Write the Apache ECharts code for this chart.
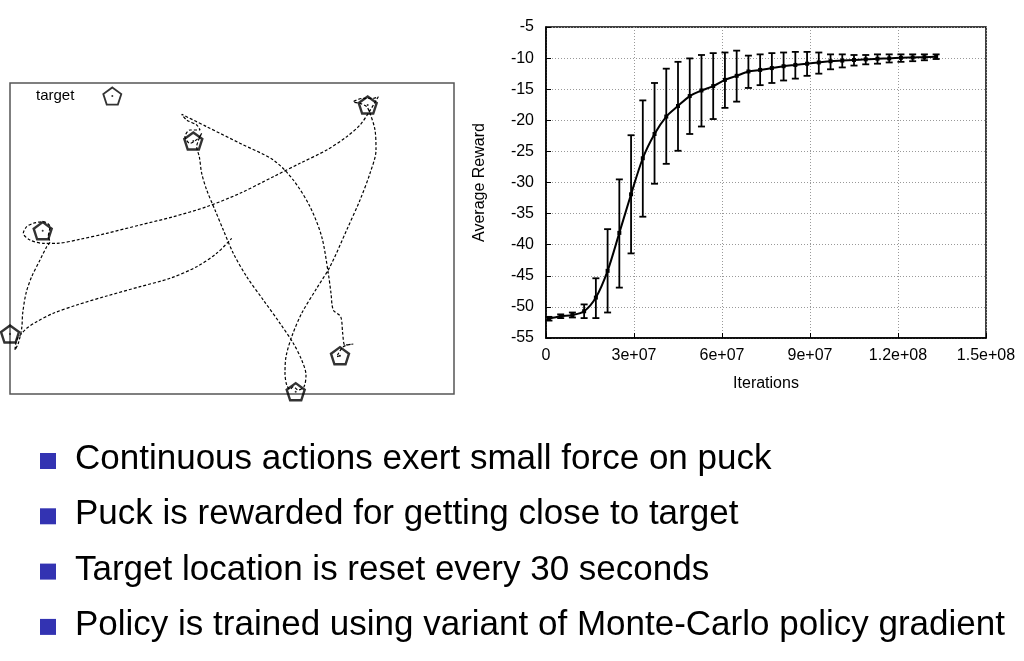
<!DOCTYPE html>
<html>
<head>
<meta charset="utf-8">
<script src="https://cdn.jsdelivr.net/npm/echarts/dist/echarts.min.js"></script>
<style>
  html, body { margin: 0; padding: 0; background: #fff; }
  #chart { width: 1024px; height: 661px; }
</style>
</head>
<body>
<div id="chart"></div>
<script>
// ---- reward curve (right panel) ----
var iterations = [];
for (var i = 0; i < 34; i++) iterations.push(1e6 + 4e6 * i);
var rewardMean = [-51.9, -51.5, -51.3, -50.7, -48.5, -44.2, -38.1, -31.9, -26.1, -22.2,
  -19.4, -17.7, -16.1, -15.2, -14.5, -13.5, -12.85, -12.15, -11.9, -11.6,
  -11.3, -11.1, -10.9, -10.7, -10.5, -10.4, -10.3, -10.2, -10.1, -10.05,
  -9.95, -9.9, -9.85, -9.8];
var rewardHigh = [-51.6, -51.2, -50.9, -49.6, -45.4, -37.5, -29.5, -22.4, -16.8, -14.0,
  -11.7, -10.6, -10.05, -9.5, -9.2, -9.1, -8.8, -9.6, -9.4, -9.2,
  -9.1, -9.0, -9.0, -9.1, -9.4, -9.4, -9.5, -9.5, -9.4, -9.4,
  -9.4, -9.4, -9.4, -9.4];
var rewardLow = [-52.2, -51.8, -51.7, -51.8, -51.8, -50.9, -46.9, -41.4, -35.5, -30.2,
  -27.0, -24.9, -22.2, -21.0, -19.8, -18.0, -17.0, -14.8, -14.35, -14.0,
  -13.6, -13.3, -12.85, -12.5, -11.8, -11.5, -11.2, -11.0, -10.9, -10.7,
  -10.6, -10.5, -10.35, -10.15];

// ---- puck trajectory (left panel), box units: x 0..444, y 0..311 from top ----
var puckPath = [
  [330, 272.7], [326.7, 273.7], [333.3, 263.7], [343.3, 261], [335, 262], [332.7, 250.3],
  [330.7, 233.7], [323.3, 227], [321, 210.3], [318.3, 190.3], [311.7, 153.7], [300, 123.7],
  [283.3, 97], [263.3, 77], [230, 60.3], [196.7, 43.7], [171.7, 31.3], [176.7, 37],
  [186.7, 42], [190, 47], [180, 47], [175, 53.7], [180, 60.3], [188.3, 55.3], [191.7, 50.3],
  [186.7, 63.7], [189.3, 73.7], [191.7, 90.3], [196.7, 107], [205, 127], [213.3, 147],
  [223.3, 170.3], [236.7, 193.7], [253.3, 217], [270, 240.3], [283.3, 260.3], [291.7, 277],
  [296, 292], [294, 303.7], [288.3, 307], [283.3, 303.7], [280, 306.3], [276.7, 302],
  [275, 290.3], [276, 273.7], [281.7, 253.7], [291.7, 230.3], [306.7, 205.3], [320, 183.7],
  [336.7, 147], [350, 117], [360, 90.3], [366, 67], [365, 47], [360, 30.3], [356.7, 23.7],
  [350, 20.3], [343.3, 19], [353.3, 15.3], [363.3, 15.3], [368.3, 13.7], [358.3, 30.3],
  [350, 42], [336.7, 53.7], [316.7, 67], [290, 80.3], [263.3, 93.7], [230, 110.3],
  [196.7, 123.7], [163.3, 133.7], [130, 142], [96.7, 150.3], [70, 156.3], [46.7, 160.3],
  [33.3, 160.3], [20, 157], [13.3, 150.3], [16.7, 143.7], [23.3, 140.3], [33.3, 138.7],
  [40, 143.7], [38.3, 153.7], [40, 158.7], [36.7, 163.7], [30, 177], [21.7, 193.7],
  [16, 210.3], [12.7, 230.3], [11.7, 245.3], [8.3, 260.3], [5, 267], [6.7, 257],
  [13.3, 248.7], [16.7, 245.3], [26.7, 238.7], [43.3, 230.3], [66.7, 222], [96.7, 213],
  [130, 203.7], [160, 195.3], [186.7, 183.7], [206.7, 170.3], [221.7, 155.3]
];
var targets = [[357.7, 22], [183.3, 58], [32.7, 147.7], [0, 251], [330, 272.7], [285.7, 308.7]];
var legendTarget = [[102.3, 13]];

var bullets = [
  'Continuous actions exert small force on puck',
  'Puck is rewarded for getting close to target',
  'Target location is reset every 30 seconds',
  'Policy is trained using variant of Monte-Carlo policy gradient'
];

var pentagon = 'path://M0,-1L0.951,-0.309L0.588,0.809L-0.588,0.809L-0.951,-0.309Z';
var baseFont = '"Liberation Sans", Arial, sans-serif';

function expLabel(v) {
  if (v === 0) return '0';
  return v.toExponential().replace(/e\+(\d)$/, 'e+0$1');
}

var errData = iterations.map(function (x, i) { return [x, rewardLow[i], rewardHigh[i]]; });

var graphics = [];
bullets.forEach(function (t, i) {
  var base = 469 + i * 55.3;
  graphics.push({
    type: 'rect', shape: { x: 40, y: base - 16, width: 16, height: 16 },
    style: { fill: '#3333b2' }
  });
  graphics.push({
    type: 'text', x: 75, y: base + 8,
    style: { text: t, font: '35px ' + baseFont, fill: '#000', verticalAlign: 'bottom' }
  });
});
graphics.push({
  type: 'text', x: 36, y: 96,
  style: { text: 'target', font: '15px ' + baseFont, fill: '#000', verticalAlign: 'middle' }
});

var chart = echarts.init(document.getElementById('chart'));
chart.setOption({
  animation: false,
  backgroundColor: '#fff',
  textStyle: { fontFamily: baseFont },
  graphic: graphics,
  grid: [
    { left: 10, top: 83, width: 444, height: 311, show: true, borderColor: '#555', borderWidth: 1.5 },
    { left: 546, top: 27, width: 440, height: 311, show: true, borderColor: '#000', borderWidth: 1.5 }
  ],
  xAxis: [
    { gridIndex: 0, type: 'value', min: 0, max: 444, show: false },
    {
      gridIndex: 1, type: 'value', min: 0, max: 1.5e8, interval: 3e7,
      name: 'Iterations', nameLocation: 'middle', nameGap: 38,
      nameTextStyle: { fontSize: 16, color: '#000' },
      axisLine: { show: true, lineStyle: { color: '#000', width: 1.5 } },
      axisTick: { show: true, inside: true, length: 5, lineStyle: { color: '#000' } },
      axisLabel: { fontSize: 16, color: '#000', margin: 10, formatter: expLabel },
      splitLine: { show: true, lineStyle: { color: '#999', type: [1, 2], width: 1 } }
    }
  ],
  yAxis: [
    { gridIndex: 0, type: 'value', min: 0, max: 311, inverse: true, show: false },
    {
      gridIndex: 1, type: 'value', min: -55, max: -5, interval: 5,
      name: 'Average Reward', nameLocation: 'middle', nameGap: 58, nameRotate: 90,
      nameTextStyle: { fontSize: 16, color: '#000' },
      axisLine: { show: true, lineStyle: { color: '#000', width: 1.5 } },
      axisTick: { show: true, inside: true, length: 5, lineStyle: { color: '#000' } },
      axisLabel: { fontSize: 16, color: '#000', margin: 12 },
      splitLine: { show: true, lineStyle: { color: '#999', type: [1, 2], width: 1 } }
    }
  ],
  series: [
    {
      type: 'line', xAxisIndex: 0, yAxisIndex: 0, data: puckPath,
      smooth: 0.3, showSymbol: false, silent: true,
      lineStyle: { color: '#000', width: 1.2, type: [3, 2] }
    },
    {
      type: 'scatter', xAxisIndex: 0, yAxisIndex: 0, data: targets,
      symbol: pentagon, symbolSize: 18, symbolKeepAspect: true,
      itemStyle: { color: 'rgba(255,255,255,0)', borderColor: '#000', borderWidth: 2.4 }
    },
    {
      type: 'scatter', xAxisIndex: 0, yAxisIndex: 0, data: legendTarget,
      symbol: pentagon, symbolSize: 18, symbolKeepAspect: true,
      itemStyle: { color: '#fff', borderColor: '#000', borderWidth: 1.8 }
    },
    {
      type: 'scatter', xAxisIndex: 0, yAxisIndex: 0, data: legendTarget.concat(targets),
      symbol: 'circle', symbolSize: 2, itemStyle: { color: '#000' }
    },
    {
      type: 'custom', xAxisIndex: 1, yAxisIndex: 1, data: errData,
      renderItem: function (params, api) {
        var top = api.coord([api.value(0), api.value(2)]);
        var bot = api.coord([api.value(0), api.value(1)]);
        var w = 3.5;
        var st = { stroke: '#000', lineWidth: 1.8 };
        return {
          type: 'group',
          children: [
            { type: 'line', shape: { x1: top[0], y1: top[1], x2: bot[0], y2: bot[1] }, style: st },
            { type: 'line', shape: { x1: top[0] - w, y1: top[1], x2: top[0] + w, y2: top[1] }, style: st },
            { type: 'line', shape: { x1: bot[0] - w, y1: bot[1], x2: bot[0] + w, y2: bot[1] }, style: st }
          ]
        };
      },
      z: 3
    },
    {
      type: 'line', xAxisIndex: 1, yAxisIndex: 1,
      data: iterations.map(function (x, i) { return [x, rewardMean[i]]; }),
      smooth: 0.3, symbol: 'rect', symbolSize: 4, showSymbol: true,
      itemStyle: { color: '#000' },
      lineStyle: { color: '#000', width: 2 }, z: 4
    }
  ]
});
</script>
</body>
</html>
